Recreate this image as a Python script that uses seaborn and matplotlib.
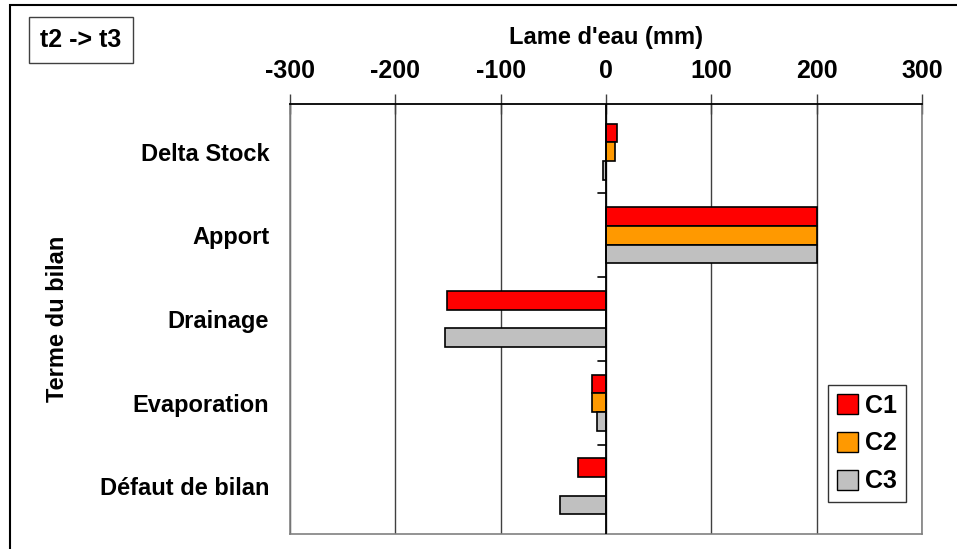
import numpy as np
import pandas as pd
import matplotlib.pyplot as plt
from matplotlib.patches import Rectangle
import seaborn as sns


# Data (mm)
termes = ["Delta Stock", "Apport", "Drainage", "Evaporation", "Défaut de bilan"]
series = ["C1", "C2", "C3"]
c1 = [10, 200, -151, -13, -27]
c2 = [9, 200, 0, -13, 0]
c3 = [-3, 200, -153, -9, -44]
colors = ["#FF0000", "#FF9900", "#C0C0C0"]

df = pd.DataFrame({
    "terme": termes * 3,
    "serie": np.repeat(series, len(termes)),
    "valeur": c1 + c2 + c3,
})

sns.set_style("white")
plt.rcParams["font.family"] = ["Liberation Sans", "DejaVu Sans"]
plt.rcParams["font.weight"] = "bold"
plt.rcParams["text.color"] = "black"
plt.rcParams["axes.labelcolor"] = "black"
plt.rcParams["xtick.color"] = "black"
plt.rcParams["ytick.color"] = "black"
plt.rcParams["axes.unicode_minus"] = False

fig = plt.figure(figsize=(9.57, 5.49), dpi=100)
ax = fig.add_axes([290 / 957, 1 - 534 / 549, 632 / 957, 430 / 549])

sns.barplot(
    data=df, x="valeur", y="terme", hue="serie",
    order=termes, hue_order=series, palette=colors, saturation=1,
    width=0.67, edgecolor="black", linewidth=1.2,
    orient="h", ax=ax, zorder=3,
)

# top value axis
ax.set_xlim(-300, 300)
ax.set_xticks(np.arange(-300, 301, 100))
ax.xaxis.tick_top()
ax.xaxis.set_label_position("top")
ax.tick_params(axis="x", direction="inout", length=14, width=1, colors="#404040",
               labelcolor="black", labelsize=18, pad=8)
for lbl in ax.get_xticklabels():
    lbl.set_fontweight("bold")
ax.set_xlabel("Lame d'eau (mm)", fontsize=17, fontweight="bold", labelpad=11)

# categories
ax.tick_params(axis="y", length=0, labelsize=17, pad=15)
for lbl in ax.get_yticklabels():
    lbl.set_fontweight("bold")
ax.set_ylabel("Terme du bilan", fontsize=17, fontweight="bold", labelpad=22)

ax.grid(axis="x", color="#404040", linewidth=1, zorder=0)
ax.grid(axis="y", visible=False)
ax.axvline(0, color="black", linewidth=1.3, zorder=4)
# small category separators on the zero axis
for i in range(len(termes) - 1):
    ax.plot([-8, 0], [i + 0.5, i + 0.5], color="black", linewidth=1.2, zorder=4)

for side in ["left", "right", "bottom"]:
    ax.spines[side].set_color("#808080")
    ax.spines[side].set_linewidth(1.2)
ax.spines["top"].set_color("black")
ax.spines["top"].set_linewidth(1.3)

# legend
leg = ax.legend(
    loc="upper left", bbox_to_anchor=((828 - 290) / 632, (534 - 385) / 430),
    borderaxespad=0, frameon=True, fancybox=False, fontsize=18,
    handlelength=0.85, handleheight=0.85, handletextpad=0.3,
    labelspacing=0.55, borderpad=0.35, title=None,
)
leg.get_frame().set_edgecolor("black")
leg.get_frame().set_linewidth(1)
for t in leg.get_texts():
    t.set_fontweight("bold")
for h in leg.legend_handles:
    h.set_edgecolor("black")
    h.set_linewidth(1)

# period box and outer frame
fig.text(81 / 957, 1 - 40 / 549, "t2 -> t3", ha="center", va="center",
         fontsize=18, fontweight="bold",
         bbox=dict(boxstyle="square,pad=0.45", facecolor="white",
                   edgecolor="#404040", linewidth=1))
fig.patches.append(Rectangle((10 / 957, -0.1), 1.2, 1.1 - 5 / 549,
                             transform=fig.transFigure, fill=False,
                             edgecolor="black", linewidth=1.5))

fig.savefig("out.png", dpi=100)
